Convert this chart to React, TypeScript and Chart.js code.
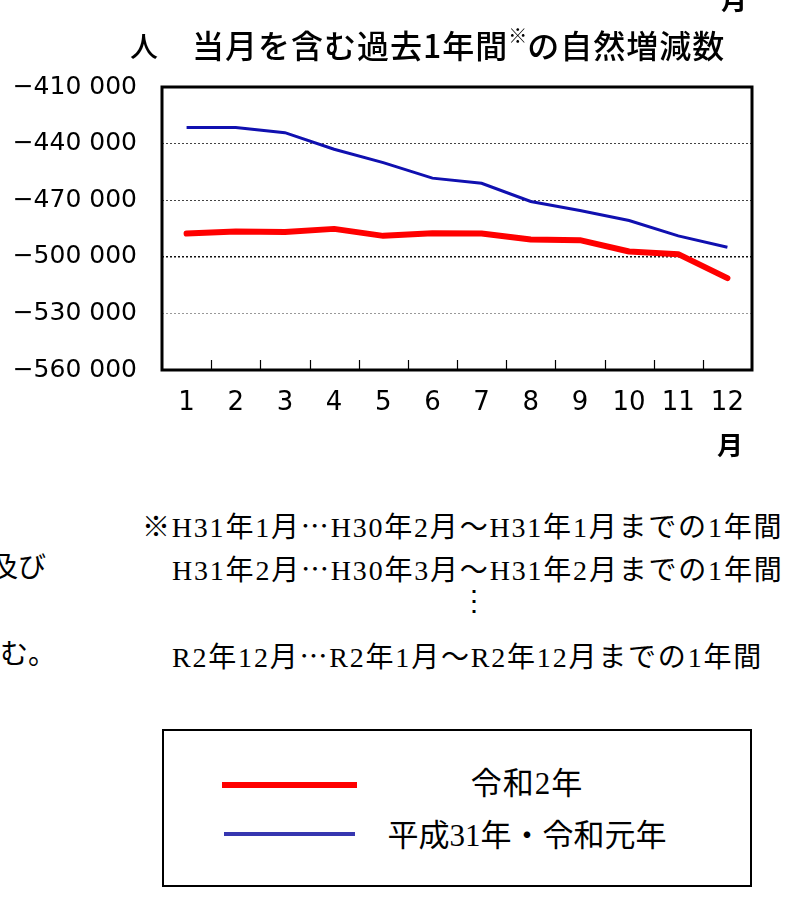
import React, { useEffect, useRef } from 'react';
import { Chart, registerables } from 'chart.js';

Chart.register(...registerables);

const months = ['1', '2', '3', '4', '5', '6', '7', '8', '9', '10', '11', '12'];
const reiwa2 = [-487700, -486600, -486900, -485200, -488900, -487500, -487700, -490800, -491200, -497200, -498600, -511300];
const heisei31 = [-431500, -431500, -434200, -443000, -450100, -458300, -461000, -470700, -475500, -480800, -488900, -494900];
const yMin = -560000;
const yMax = -410000;
const yStep = 30000;
const seriesNames = ['令和2年', '平成31年・令和元年'];
const seriesColors = ['#ff0000', '#1010b0'];
const legendColors = ['#ff0000', '#3636b0'];
const seriesWidths = [6, 3];

const fmt = (v: number) =>
  (v < 0 ? '−' : '') + Math.abs(v).toString().replace(/\B(?=(\d{3})+(?!\d))/g, ' ');

const framePlugin = {
  id: 'frame',
  afterDraw(chart: any) {
    const { ctx, chartArea } = chart;
    const { left, top, right, bottom } = chartArea;
    const x = chart.scales.x;
    ctx.save();
    ctx.strokeStyle = '#000';
    ctx.lineWidth = 1.2;
    for (let i = 0; i < months.length - 1; i++) {
      const px = Math.round((x.getPixelForValue(i) + x.getPixelForValue(i + 1)) / 2) + 0.5;
      ctx.beginPath();
      ctx.moveTo(px, bottom);
      ctx.lineTo(px, bottom - 10);
      ctx.stroke();
    }
    ctx.lineWidth = 3;
    ctx.strokeRect(left, top, right - left, bottom - top);
    ctx.restore();
  },
};

function ChartCanvas() {
  const ref = useRef<HTMLCanvasElement | null>(null);
  useEffect(() => {
    if (!ref.current) return;
    const chart = new Chart(ref.current, {
      type: 'line',
      data: {
        labels: months,
        datasets: [
          {
            label: seriesNames[0],
            data: reiwa2,
            borderColor: seriesColors[0],
            borderWidth: seriesWidths[0],
            pointRadius: 0,
            tension: 0,
            fill: false,
            borderCapStyle: 'round',
            borderJoinStyle: 'round',
          },
          {
            label: seriesNames[1],
            data: heisei31,
            borderColor: seriesColors[1],
            borderWidth: seriesWidths[1],
            pointRadius: 0,
            tension: 0,
            fill: false,
          },
        ],
      },
      options: {
        animation: false,
        responsive: false,
        maintainAspectRatio: false,
        devicePixelRatio: 1,
        layout: { padding: { left: 0, top: 87, right: 48, bottom: 0 } },
        plugins: {
          legend: { display: false },
          title: { display: false },
          tooltip: { enabled: false },
        },
        scales: {
          x: {
            type: 'category',
            offset: true,
            grid: { display: false, drawTicks: false },
            border: { display: false },
            ticks: {
              color: '#000',
              padding: 18,
              font: { family: '"DejaVu Sans", sans-serif', size: 26 },
              maxRotation: 0,
              autoSkip: false,
            },
            afterFit: (s: any) => {
              s.height = 110;
            },
          },
          y: {
            min: yMin,
            max: yMax,
            grid: {
              drawTicks: false,
              lineWidth: (c: any) => (c.tick && c.tick.value === -500000 ? 1.5 : 1),
              color: (c: any) => {
                const v = c.tick && c.tick.value;
                if (v === yMin || v === yMax) return 'rgba(0,0,0,0)';
                if (v === -500000) return '#111';
                if (v === -530000) return '#999';
                return '#444';
              },
            },
            border: { display: false, dash: [2, 2] },
            ticks: {
              stepSize: yStep,
              color: '#000',
              padding: 25,
              font: { family: '"DejaVu Sans", sans-serif', size: 25 },
              callback: (v: any) => fmt(Number(v)),
            },
            afterFit: (s: any) => {
              s.width = 162;
            },
          },
        },
      },
      plugins: [framePlugin],
    } as any);
    return () => chart.destroy();
  }, []);
  return <canvas ref={ref} width={800} height={480} style={{ display: 'block', width: 800, height: 480 }} />;
}

const serif = '"Liberation Serif", "Noto Sans CJK JP", serif';
const gothic = '"Noto Sans CJK JP", "DejaVu Sans", sans-serif';

const abs = (o: React.CSSProperties): React.CSSProperties => ({ position: 'absolute', margin: 0, whiteSpace: 'nowrap', ...o });
const El = () => <span style={{ fontFamily: gothic }}>…</span>;

export default function App() {
  return (
    <div style={{ position: 'absolute', left: 0, top: 0, width: 800, height: 922, overflow: 'hidden', background: '#fff' }}>
      <div style={abs({ left: 0, top: 0 })}>
        <ChartCanvas />
      </div>
      {/* top-right clipped unit */}
      <div style={abs({ left: 721, top: -14, fontFamily: gothic, fontSize: 26, fontWeight: 700, lineHeight: '26px' })}>月</div>
      {/* title */}
      <div style={abs({ left: 130, top: 30, fontFamily: gothic, fontSize: 28, fontWeight: 500, lineHeight: '30px' })}>人</div>
      <div style={abs({ left: 192, top: 28, fontFamily: gothic, fontSize: 32, fontWeight: 500, lineHeight: '32px', letterSpacing: 1 })}>
        当月を含む過去1年間
        <span style={{ fontSize: 19, position: 'relative', top: -15, letterSpacing: 0 }}>※</span>
        の自然増減数
      </div>
      {/* x unit */}
      <div style={abs({ left: 717, top: 431, fontFamily: gothic, fontSize: 26, fontWeight: 700, lineHeight: '26px' })}>月</div>
      {/* notes */}
      <div style={abs({ left: -10, top: 553, fontFamily: serif, fontSize: 28, lineHeight: '30px' })}>及び</div>
      <div style={abs({ left: -28, top: 640, fontFamily: serif, fontSize: 28, lineHeight: '30px' })}>含む。</div>
      <div style={abs({ left: 142, top: 510, fontFamily: serif, fontSize: 28, lineHeight: '30px', letterSpacing: 1.8 })}>
        ※H31年1月<El />H30年2月～H31年1月までの1年間
      </div>
      <div style={abs({ left: 172, top: 553, fontFamily: serif, fontSize: 28, lineHeight: '30px', letterSpacing: 1.8 })}>
        H31年2月<El />H30年3月～H31年2月までの1年間
      </div>
      <div style={abs({ left: 460, top: 586, fontFamily: serif, fontSize: 28, lineHeight: '30px' })}>⋮</div>
      <div style={abs({ left: 172, top: 640, fontFamily: serif, fontSize: 28, lineHeight: '30px', letterSpacing: 1.8 })}>
        R2年12月<El />R2年1月～R2年12月までの1年間
      </div>
      {/* legend */}
      <div style={abs({ left: 162, top: 729, width: 586, height: 154, border: '2.5px solid #000', boxSizing: 'content-box' })}>
        <div style={abs({ left: 58, top: 51, width: 135, height: 6, background: legendColors[0] })} />
        <div style={abs({ left: 60, top: 101, width: 131, height: 4, background: legendColors[1] })} />
        <div style={abs({ left: 220, top: 37, width: 286, textAlign: 'center', fontFamily: serif, fontSize: 31, lineHeight: '32px', letterSpacing: 1 })}>
          {seriesNames[0]}
        </div>
        <div style={abs({ left: 220, top: 89, width: 286, textAlign: 'center', fontFamily: serif, fontSize: 31, lineHeight: '32px' })}>
          {seriesNames[1]}
        </div>
      </div>
    </div>
  );
}
